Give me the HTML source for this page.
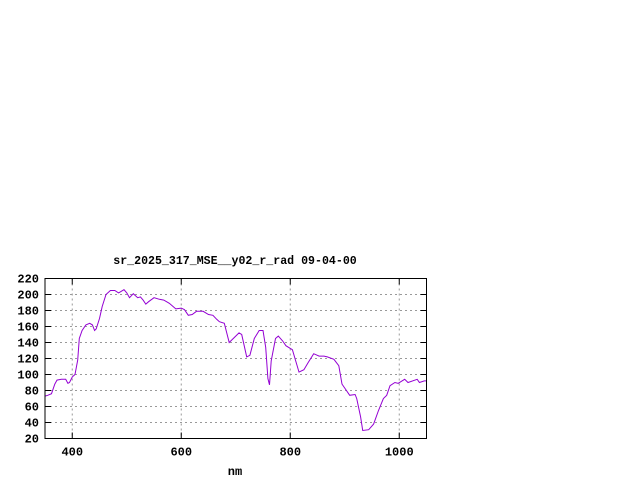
<!DOCTYPE html>
<html><head><style>
html,body{margin:0;padding:0;background:#fff;}
text{font-family:"Liberation Mono","DejaVu Sans Mono",monospace;font-weight:bold;font-size:12px;fill:#000;}
</style></head><body>
<svg id="s" width="640" height="480" xmlns="http://www.w3.org/2000/svg">
<rect width="640" height="480" fill="#fff"/>
<g id="g"></g>
<text x="235" y="264" text-anchor="middle" style="font-size:11.6px">sr_2025_317_MSE__y02_r_rad 09-04-00</text>
<text x="235" y="475" text-anchor="middle">nm</text>
</svg>
<script>
var L=45,R=426.5,T=278.5,B=438.5;
function X(n){return L+(n-350)*(R-L)/700;}
function Y(v){return B-(v-20)*(B-T)/200;}
var g=document.getElementById('g'),h='';
for(var v=20;v<=220;v+=20){var y=Y(v);
 if(v>20&&v<220)h+='<line x1="'+L+'" x2="'+R+'" y1="'+y+'" y2="'+y+'" stroke="#999" stroke-dasharray="2,3"/>';
 h+='<line x1="'+L+'" x2="'+(L+6)+'" y1="'+y+'" y2="'+y+'" stroke="#000"/><line x1="'+(R-6)+'" x2="'+R+'" y1="'+y+'" y2="'+y+'" stroke="#000"/>';
 h+='<text x="39" y="'+(y+4)+'" text-anchor="end">'+v+'</text>';}
[400,600,800,1000].forEach(function(n){var x=X(n);
 h+='<line x1="'+x+'" x2="'+x+'" y1="'+T+'" y2="'+B+'" stroke="#999" stroke-dasharray="2,3"/>';
 h+='<line x1="'+x+'" x2="'+x+'" y1="'+(B-6)+'" y2="'+B+'" stroke="#000"/><line x1="'+x+'" x2="'+x+'" y1="'+T+'" y2="'+(T+6)+'" stroke="#000"/>';
 h+='<text x="'+x+'" y="'+(B+17)+'" text-anchor="middle">'+n+'</text>';});
var d=[[350,73],[355,74],[362,76],[368,88],[372,93],[380,94],[388,94],[392,89],[395,90],[400,97],[405,100],[410,118],[413,145],[418,155],[425,162],[432,164],[437,162],[441,155],[444,157],[450,170],[455,185],[462,200],[470,205],[478,205],[485,202],[495,206],[500,202],[505,196],[512,201],[520,196],[525,197],[530,193],[535,188],[540,191],[550,196],[560,194],[568,193],[578,189],[590,182],[600,183],[606,181],[613,174],[620,175],[628,179],[640,179],[650,175],[658,174],[665,169],[670,166],[679,164],[688,140],[706,152],[711,150],[720,122],[726,124],[734,145],[743,155],[750,155],[755,134],[759,95],[762,87],[765,117],[773,145],[778,148],[786,142],[792,136],[804,131],[816,103],[825,106],[833,115],[843,126],[853,123],[862,123],[868,122],[880,119],[889,111],[895,88],[901,82],[909,74],[919,75],[922,70],[929,47],[933,30],[944,31],[953,38],[962,55],[971,70],[977,74],[983,86],[992,90],[998,89],[1010,94],[1016,90],[1033,94],[1037,90],[1046,92],[1050,92]];
h+='<polyline fill="none" stroke="#9400d3" stroke-width="1" points="'+d.map(function(p){return X(p[0]).toFixed(1)+','+Y(p[1]).toFixed(1)}).join(' ')+'"/>';
h+='<rect x="'+L+'" y="'+T+'" width="'+(R-L)+'" height="'+(B-T)+'" fill="none" stroke="#000"/>';
g.innerHTML=h;
</script>
</body></html>
